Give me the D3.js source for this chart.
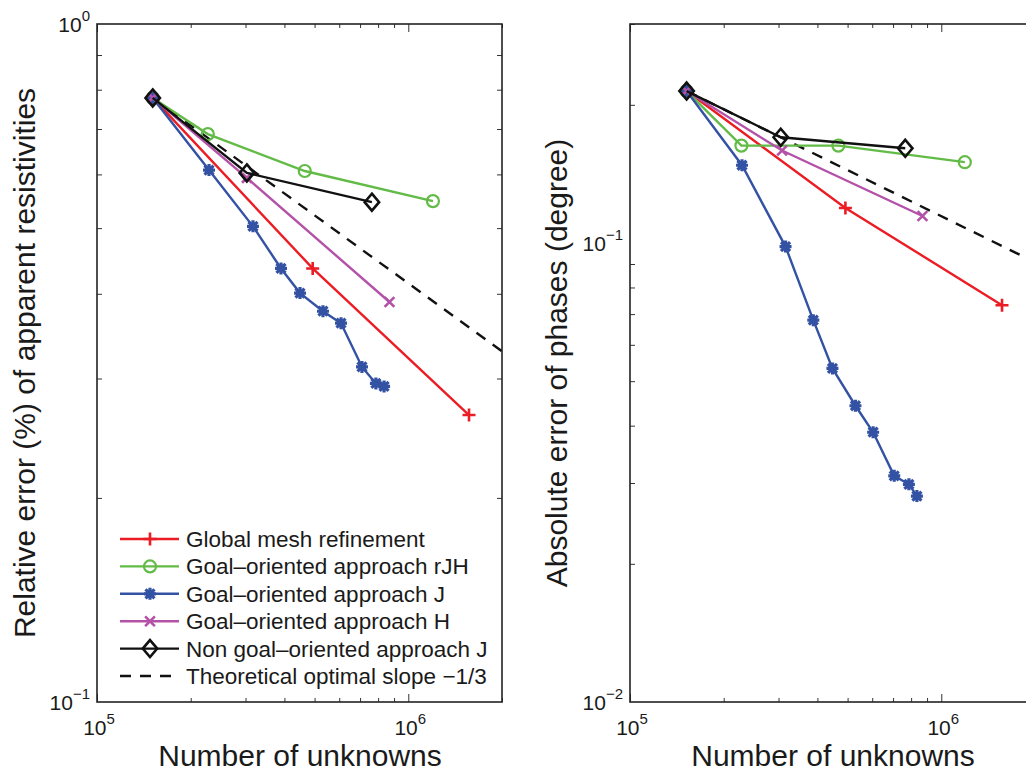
<!DOCTYPE html>
<html>
<head>
<meta charset="utf-8">
<script src="https://cdn.jsdelivr.net/npm/d3@7"></script>
<style>
  body { margin: 0; background: #fff; }
  svg { display: block; font-family: "Liberation Sans", Arial, Helvetica, sans-serif; }
  text { fill: #1a1a1a; }
</style>
</head>
<body>
<div id="chart"></div>
<script>
// ---- data ----
const seriesNames = [
  "Global mesh refinement",
  "Goal\u2013oriented approach rJH",
  "Goal\u2013oriented approach J",
  "Goal\u2013oriented approach H",
  "Non goal\u2013oriented approach J",
  "Theoretical optimal slope \u22121/3"
];

// left panel: relative error of apparent resistivities
const globalN_L = [1.51e5, 4.93e5, 1.567e6];
const globalE_L = [0.778, 0.436, 0.265];
const rjhN_L = [1.51e5, 2.27e5, 4.65e5, 1.2e6];
const rjhE_L = [0.778, 0.688, 0.607, 0.548];
const jN_L = [1.51e5, 2.29e5, 3.17e5, 3.9e5, 4.49e5, 5.32e5, 6.08e5, 7.1e5, 7.87e5, 8.36e5];
const jE_L = [0.778, 0.609, 0.503, 0.436, 0.401, 0.377, 0.362, 0.312, 0.295, 0.292];
const hN_L = [1.51e5, 3.03e5, 8.7e5];
const hE_L = [0.778, 0.593, 0.389];
const nonN_L = [1.51e5, 3.03e5, 7.64e5];
const nonE_L = [0.778, 0.603, 0.546];
const slopeN_L = [1.51e5, 2.0e6];
const slopeE_L = [0.778, 0.329];

// right panel: absolute error of phases (degree)
const globalN_R = [1.52e5, 4.92e5, 1.567e6];
const globalE_R = [0.2143, 0.1192, 0.0732];
const rjhN_R = [1.52e5, 2.28e5, 4.67e5, 1.19e6];
const rjhE_R = [0.2143, 0.163, 0.163, 0.150];
const jN_R = [1.52e5, 2.29e5, 3.16e5, 3.88e5, 4.47e5, 5.3e5, 6.04e5, 7.06e5, 7.87e5, 8.35e5];
const jE_R = [0.2143, 0.1477, 0.0982, 0.0679, 0.0533, 0.0442, 0.0387, 0.0311, 0.0298, 0.0281];
const hN_R = [1.52e5, 3.08e5, 8.7e5];
const hE_R = [0.2143, 0.159, 0.1145];
const nonN_R = [1.52e5, 3.05e5, 7.66e5];
const nonE_R = [0.2143, 0.170, 0.1608];
const slopeN_R = [1.52e5, 2.0e6];
const slopeE_R = [0.2143, 0.0908];

const xTickValues = [1e5, 1e6];
const yTicksLeft = [0.1, 1];
const yTicksRight = [0.01, 0.1];

// ---- styling ----
const colors = ["#ec1c24", "#62bb46", "#3452a4", "#b352a8", "#111111", "#111111"];
const markers = ["plus", "circle", "star", "times", "diamond", "none"];

const width = 1026, height = 775;
const svg = d3.select("#chart").append("svg")
  .attr("width", width).attr("height", height);

function zip(xs, ys) { return xs.map((x, i) => [x, ys[i]]); }

function markerPath(type, s) {
  switch (type) {
    case "plus": return `M${-s},0L${s},0M0,${-s}L0,${s}`;
    case "times": return `M${-s*0.75},${-s*0.75}L${s*0.75},${s*0.75}M${-s*0.75},${s*0.75}L${s*0.75},${-s*0.75}`;
    case "star": {
      const a = s * 0.75;
      return `M${-s},0L${s},0M0,${-s}L0,${s}M${-a},${-a}L${a},${a}M${-a},${a}L${a},${-a}`;
    }
    case "diamond": return `M0,${-s}L${s*0.85},0L0,${s}L${-s*0.85},0Z`;
    default: return "";
  }
}

function drawMarker(g, type, color, x, y) {
  if (type === "circle") {
    g.append("circle").attr("cx", x).attr("cy", y).attr("r", 6)
      .attr("fill", "none").attr("stroke", color).attr("stroke-width", 2.2);
  } else if (type !== "none") {
    const size = type === "diamond" ? 8.5 : (type === "star" ? 6 : 6.5);
    g.append("path").attr("d", markerPath(type, size))
      .attr("transform", `translate(${x},${y})`)
      .attr("fill", "none")
      .attr("stroke", color)
      .attr("stroke-width", type === "star" ? 3.2 : 2.6);
  }
}

function supLabel(sel, base, exp, anchor) {
  const t = sel.append("text").attr("text-anchor", anchor).attr("font-size", 21);
  t.append("tspan").text(base);
  t.append("tspan").attr("font-size", 15).attr("dy", -11).text(exp);
  return t;
}

function panel(opts) {
  const { left, top, w, h, yDomain, yMajor, series, yLabel, yLabelX, legend, id } = opts;
  const x = d3.scaleLog().domain([1e5, 2e6]).range([left, left + w]);
  const y = d3.scaleLog().domain(yDomain).range([top + h, top]);
  const g = svg.append("g");

  g.append("clipPath").attr("id", id).append("rect")
    .attr("x", left).attr("y", top).attr("width", w).attr("height", h);

  // minor / major ticks on all four sides, pointing inward
  const xMinor = [];
  for (let d = 1e5; d < 2e6; d *= 10) for (let k = 2; k <= 9; k++) if (d * k <= 2e6) xMinor.push(d * k);
  const yMinor = [];
  for (let d = yDomain[0]; d < yDomain[1] * 0.999; d *= 10) for (let k = 2; k <= 9; k++) if (d * k <= yDomain[1] * 1.001) yMinor.push(d * k);

  const tickStyle = s => s.call(a => a.select(".domain").remove())
    .call(a => a.selectAll("line").attr("stroke", "#333").attr("stroke-width", 1));

  g.append("g").attr("transform", `translate(0,${top + h})`)
    .call(d3.axisBottom(x).tickValues(xMinor).tickSize(-4).tickFormat("")).call(tickStyle);
  g.append("g").attr("transform", `translate(0,${top + h})`)
    .call(d3.axisBottom(x).tickValues(xTickValues).tickSize(-8).tickFormat("")).call(tickStyle);
  g.append("g").attr("transform", `translate(0,${top})`)
    .call(d3.axisTop(x).tickValues(xMinor).tickSize(-4).tickFormat("")).call(tickStyle);
  g.append("g").attr("transform", `translate(0,${top})`)
    .call(d3.axisTop(x).tickValues(xTickValues).tickSize(-8).tickFormat("")).call(tickStyle);
  g.append("g").attr("transform", `translate(${left},0)`)
    .call(d3.axisLeft(y).tickValues(yMinor).tickSize(-5).tickFormat("")).call(tickStyle);
  g.append("g").attr("transform", `translate(${left + w},0)`)
    .call(d3.axisRight(y).tickValues(yMinor).tickSize(-5).tickFormat("")).call(tickStyle);

  // frame
  g.append("rect").attr("x", left).attr("y", top).attr("width", w).attr("height", h)
    .attr("fill", "none").attr("stroke", "#222").attr("stroke-width", 1.6);

  // tick labels
  xTickValues.forEach(v => {
    supLabel(g, "10", String(Math.round(Math.log10(v))), "middle")
      .attr("x", x(v) + 2).attr("y", top + h + 33);
  });
  yMajor.forEach(v => {
    const e = Math.round(Math.log10(v));
    supLabel(g, "10", e === 0 ? "0" : "\u2212" + (-e), "end")
      .attr("x", left - 7).attr("y", y(v) + 8);
  });

  // series
  const plot = g.append("g").attr("clip-path", `url(#${id})`);
  const line = d3.line().x(d => x(d[0])).y(d => y(d[1]));
  // draw order: slope first, then others
  const order = [5, 0, 1, 2, 3, 4];
  order.forEach(i => {
    const pts = series[i];
    plot.append("path").datum(pts).attr("d", line)
      .attr("fill", "none").attr("stroke", colors[i]).attr("stroke-width", 2.4)
      .attr("stroke-dasharray", i === 5 ? "11,9" : null);
    pts.forEach(p => drawMarker(plot, markers[i], colors[i], x(p[0]), y(p[1])));
  });

  // axis titles
  g.append("text").attr("font-size", 30).attr("text-anchor", "middle")
    .attr("x", left + 203).attr("y", top + h + 64).text("Number of unknowns");
  g.append("text").attr("font-size", 30).attr("text-anchor", "middle")
    .attr("transform", `translate(${yLabelX},${top + h / 2}) rotate(-90)`).text(yLabel);

  if (legend) {
    const lg = g.append("g");
    seriesNames.forEach((name, i) => {
      const cy = 539 + i * 27.4;
      lg.append("line").attr("x1", 120).attr("x2", 179).attr("y1", cy).attr("y2", cy)
        .attr("stroke", colors[i]).attr("stroke-width", 2.4)
        .attr("stroke-dasharray", i === 5 ? "11,9" : null);
      drawMarker(lg, markers[i], colors[i], 150, cy);
      lg.append("text").attr("x", 186).attr("y", cy + 8).attr("font-size", 22.5).text(name);
    });
  }
}

panel({
  id: "clipL", left: 97, top: 24, w: 405, h: 678,
  yDomain: [0.1, 1], yMajor: yTicksLeft,
  series: [zip(globalN_L, globalE_L), zip(rjhN_L, rjhE_L), zip(jN_L, jE_L),
           zip(hN_L, hE_L), zip(nonN_L, nonE_L), zip(slopeN_L, slopeE_L)],
  yLabel: "Relative error (%) of apparent resistivities", yLabelX: 35, legend: true
});

panel({
  id: "clipR", left: 630, top: 24, w: 405, h: 678,
  yDomain: [0.01, 0.3], yMajor: yTicksRight,
  series: [zip(globalN_R, globalE_R), zip(rjhN_R, rjhE_R), zip(jN_R, jE_R),
           zip(hN_R, hE_R), zip(nonN_R, nonE_R), zip(slopeN_R, slopeE_R)],
  yLabel: "Absolute error of phases (degree)", yLabelX: 567, legend: false
});
</script>
</body>
</html>
